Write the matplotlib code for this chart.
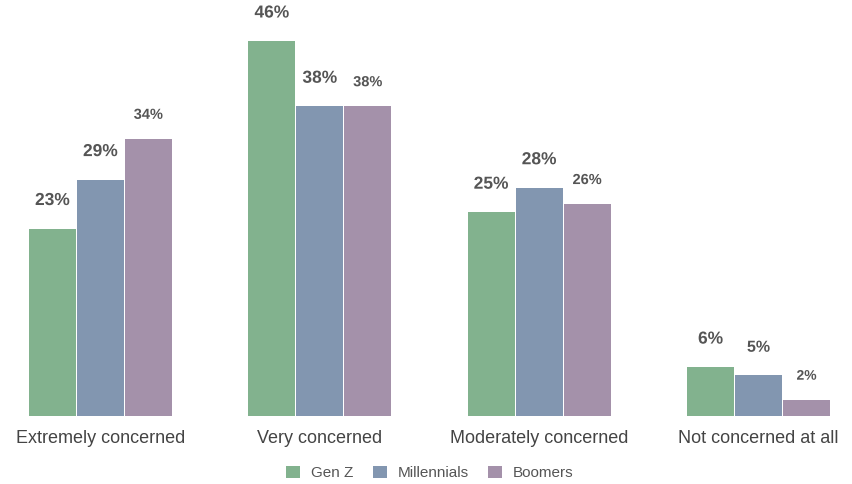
import matplotlib
matplotlib.use("Agg")
import matplotlib.pyplot as plt
import matplotlib.patheffects as pe
import numpy as np

categories = ["Extremely concerned", "Very concerned", "Moderately concerned", "Not concerned at all"]
series_names = ["Gen Z", "Millennials", "Boomers"]
gen_z = [23, 46, 25, 6]
millennials = [29, 38, 28, 5]
boomers = [34, 38, 26, 2]
colors = ["#82B28E", "#8296B0", "#A491AA"]
label_sizes = [[12, 12, 10], [12, 12, 10], [12, 12, 10], [12, 11, 9.5]]

plt.rcParams["font.family"] = ["Liberation Sans", "DejaVu Sans"]

fig = plt.figure(figsize=(8.53, 4.84), dpi=100)
ax = fig.add_axes([12.7 / 853, (484 - 416) / 484, (846.3 - 12.7) / 853, 407.6 / 484])
ax.set_xlim(-0.4, 3.4)
ax.set_ylim(0, 50)

x = np.arange(len(categories))
bar_w = 47 / 219.5
step = 48 / 219.5
all_series = [gen_z, millennials, boomers]

for i, (vals, name, col) in enumerate(zip(all_series, series_names, colors)):
    pos = x + (i - 1) * step
    ax.bar(pos, vals, width=bar_w, color=col, label=name, linewidth=0)
    for j, (p, v) in enumerate(zip(pos, vals)):
        fs = label_sizes[j][i]
        off = 28 if fs >= 11 else 24
        ax.annotate(f"{v}%", (p, v), xytext=(0, off * 0.72), textcoords="offset points",
                    ha="center", va="center", fontsize=fs + 0.5, fontweight="bold", color="#555555",
                    path_effects=[pe.withStroke(linewidth=3, foreground="white")])

ax.set_xticks(x)
ax.set_xticklabels(categories, fontsize=13, color="#444444")
ax.tick_params(axis="x", length=0, pad=10)
ax.set_yticks([])
for s in ax.spines.values():
    s.set_visible(False)

leg = fig.legend(loc="center", bbox_to_anchor=(0.504, (484 - 473) / 484), ncol=3, frameon=False,
                 fontsize=11, handlelength=0.9, handleheight=0.9, handletextpad=0.7,
                 columnspacing=1.3, labelcolor="#555555")

fig.savefig("out.png", dpi=100)
